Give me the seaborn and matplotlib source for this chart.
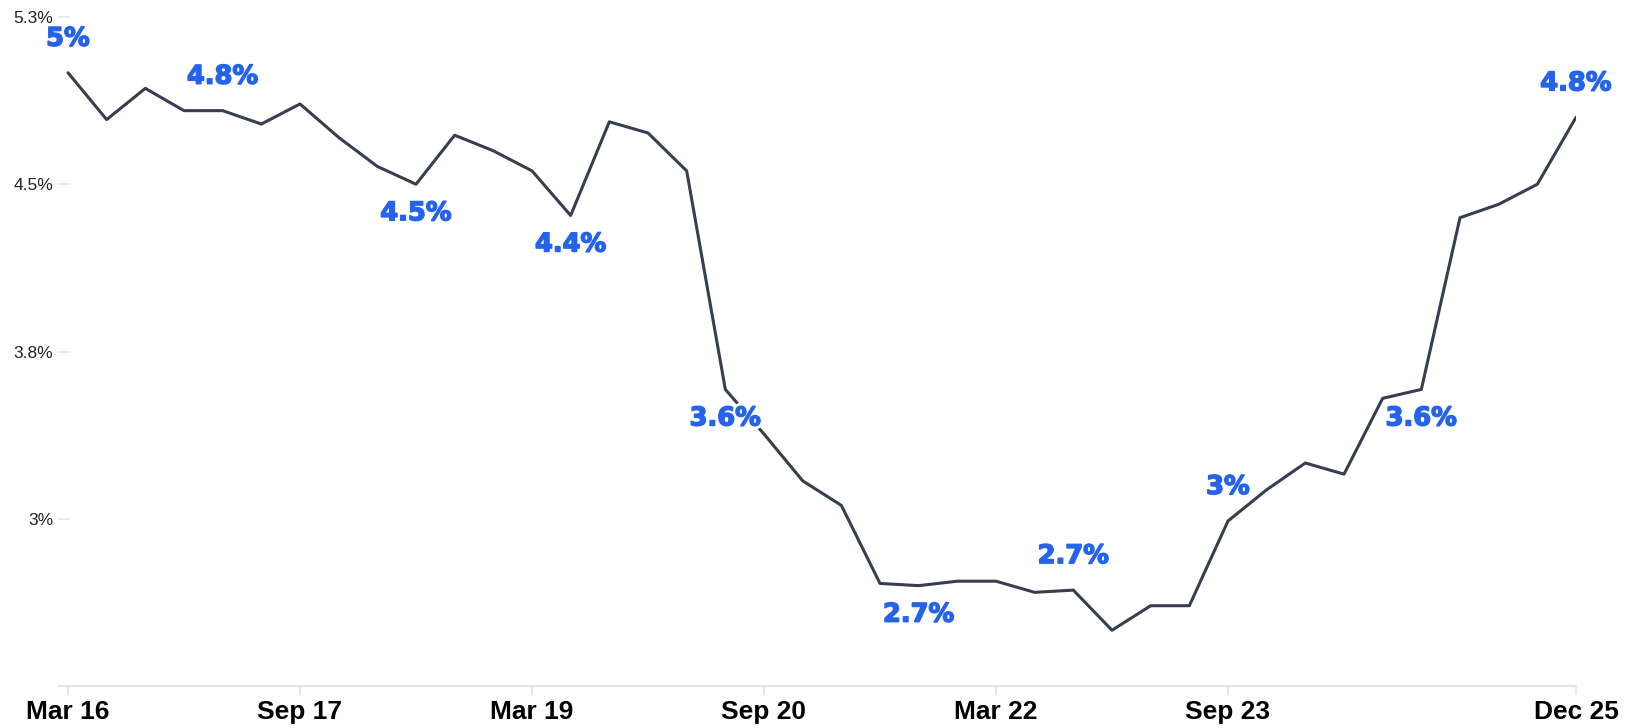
"""
plot.py
───────
Quarterly rate, Mar 2016 to Dec 2025, with labelled turning points.

Run: python plot.py  → out.png
"""

import matplotlib
matplotlib.use("Agg")
import matplotlib.pyplot as plt
import matplotlib.patheffects as pe
import pandas as pd
import seaborn as sns

# ── Data ─────────────────────────────────────────────────────────────────────
MONTHS = ["Mar", "Jun", "Sep", "Dec"]
QUARTERS = [f"{m} {y:02d}" for y in range(16, 26) for m in MONTHS]

RATE = [5.00, 4.79, 4.93, 4.83, 4.83, 4.77, 4.86, 4.71, 4.58, 4.50,
        4.72, 4.65, 4.56, 4.36, 4.78, 4.73, 4.56, 3.58, 3.38, 3.17,
        3.06, 2.71, 2.70, 2.72, 2.72, 2.67, 2.68, 2.50, 2.61, 2.61,
        2.99, 3.13, 3.25, 3.20, 3.54, 3.58, 4.35, 4.41, 4.50, 4.80]

# which points get a label, and whether it sits above or below the line
LABEL_IDX = [0, 4, 9, 13, 17, 22, 26, 30, 35, 39]
LABEL_POS = ["above", "above", "below", "below", "below",
             "below", "above", "above", "below", "above"]

XTICK_LABELS = ["Mar 16", "Sep 17", "Mar 19", "Sep 20", "Mar 22", "Sep 23", "Dec 25"]
YTICKS       = [3.0, 3.75, 4.5, 5.25]
YTICK_LABELS = ["3%", "3.8%", "4.5%", "5.3%"]

# ── Style ────────────────────────────────────────────────────────────────────
LINE_COLOR  = "#353f4f"
LABEL_COLOR = "#2563eb"
AXIS_GRAY   = "#e3e4e8"

sns.set_theme(style="white")
plt.rcParams["font.family"] = ["Liberation Sans", "DejaVu Sans"]

df = pd.DataFrame({"idx": range(len(RATE)), "quarter": QUARTERS, "rate": RATE})

fig = plt.figure(figsize=(16.33, 7.28), dpi=100)
ax = fig.add_axes([59 / 1633, 42 / 728, 1517 / 1633, 669 / 728])

sns.lineplot(data=df, x="idx", y="rate", ax=ax, color=LINE_COLOR,
             linewidth=2.2, legend=False)

# ── Point labels ─────────────────────────────────────────────────────────────
# white halo first, then a thin blue stroke to get the heavy look
halo = [pe.withStroke(linewidth=5, foreground="white"),
        pe.withStroke(linewidth=1.1, foreground=LABEL_COLOR)]
for i, pos in zip(LABEL_IDX, LABEL_POS):
    v = RATE[i]
    txt = f"{round(v, 1):g}%"
    dy = 27 if pos == "above" else -36
    ax.annotate(txt, (i, v), xytext=(0, dy), textcoords="offset pixels",
                ha="center", va="baseline", fontsize=18.5, fontweight="bold",
                family="DejaVu Sans", color=LABEL_COLOR,
                path_effects=halo, zorder=5)

# ── Axes ─────────────────────────────────────────────────────────────────────
ax.set_xlim(-9 / 38.67, len(RATE) - 1)
ax.set_ylim(2.25, 5.25)

xt = [QUARTERS.index(q) for q in XTICK_LABELS]
ax.set_xticks(xt)
ax.set_xticklabels(XTICK_LABELS, fontsize=19, fontweight="bold", color="black")
ax.set_yticks(YTICKS)
ax.set_yticklabels(YTICK_LABELS, fontsize=12.5, color="#222222")

ax.tick_params(axis="x", direction="out", length=6.5, width=1.2,
               color=AXIS_GRAY, pad=3.3, bottom=True)
ax.tick_params(axis="y", direction="in", length=7.2, width=1.2,
               color=AXIS_GRAY, pad=4.3, left=True)

for side in ["top", "right", "left"]:
    ax.spines[side].set_visible(False)
ax.spines["bottom"].set_color(AXIS_GRAY)
ax.spines["bottom"].set_linewidth(1.5)

ax.set_xlabel("")
ax.set_ylabel("")
ax.grid(False)
ax.patch.set_alpha(0)

fig.savefig("out.png", dpi=100)
plt.close(fig)
